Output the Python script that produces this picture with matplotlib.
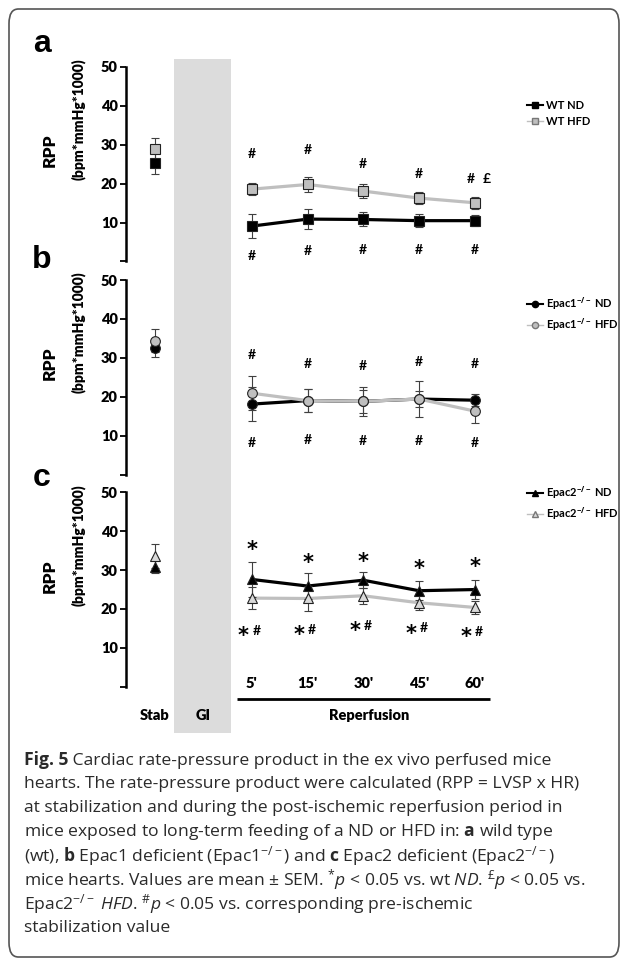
import matplotlib
matplotlib.use("Agg")
import matplotlib.pyplot as plt
from matplotlib.lines import Line2D
from matplotlib.patches import Rectangle, FancyBboxPatch
import matplotlib.transforms as mtransforms

plt.rcParams['font.family'] = ['Lato', 'DejaVu Sans']
plt.rcParams['mathtext.fontset'] = 'custom'
plt.rcParams['mathtext.rm'] = 'Open Sans'
plt.rcParams['mathtext.it'] = 'Open Sans:italic'
plt.rcParams['mathtext.bf'] = 'Open Sans:bold'

# x positions: Stab, then reperfusion 5'..60'
stab_x = -0.74
reperf_x = [1, 2, 3, 4, 5]
reperf_labels = ["5'", "15'", "30'", "45'", "60'"]

# values: first = Stab, then 5', 15', 30', 45', 60'
wt_nd = [25.4, 9.1, 10.9, 10.8, 10.5, 10.5]
wt_nd_err = [2.9, 3.0, 2.6, 1.8, 1.7, 1.5]
wt_hfd = [28.9, 18.6, 19.8, 18.1, 16.3, 15.1]
wt_hfd_err = [2.8, 1.5, 1.9, 1.8, 1.6, 1.6]

e1_nd = [32.5, 18.1, 19.0, 18.8, 19.4, 19.1]
e1_nd_err = [2.3, 4.4, 3.0, 3.8, 2.0, 1.6]
e1_hfd = [34.4, 20.9, 19.0, 18.8, 19.4, 16.3]
e1_hfd_err = [2.9, 4.4, 3.0, 3.0, 4.6, 3.1]

e2_nd = [30.9, 27.6, 25.9, 27.4, 24.7, 25.0]
e2_nd_err = [1.7, 4.6, 3.3, 2.0, 2.4, 2.4]
e2_hfd = [33.6, 22.8, 22.7, 23.4, 21.6, 20.4]
e2_hfd_err = [3.0, 2.8, 3.1, 2.1, 1.9, 1.7]

# significance marks (y positions in data units)
a_hash_top = [27.6, 28.7, 25.0, 22.4, 21.2]
a_hash_bot = [1.4, 2.7, 3.0, 3.0, 3.0]
b_hash_top = [30.6, 28.3, 28.0, 28.8, 28.5]
b_hash_bot = [8.1, 8.8, 8.5, 8.6, 8.1]
c_star_top = [36.5, 33.0, 33.5, 31.5, 32.2]
c_star_bot = [14.4, 14.6, 15.7, 15.0, 14.0]

fig = plt.figure(figsize=(6.27, 9.64), dpi=100)
H = 964.0
W = 627.0
ax_left = 126 / W
ax_w = (610 - 126) / W
ax_h = 194.5 / H
tops = [67, 280, 492.3]
axes = [fig.add_axes([ax_left, 1 - (t + 194.5) / H, ax_w, ax_h]) for t in tops]

hfd_face = ['#bfbfbf', '#bfbfbf', '#d9d9d9']
markers = ['s', 'o', '^']
msize = [7, 7, 7.5]
series = [(wt_nd, wt_nd_err, wt_hfd, wt_hfd_err, 'WT ND', 'WT HFD'),
          (e1_nd, e1_nd_err, e1_hfd, e1_hfd_err, r'Epac1$^{\mathbf{-/-}}$ ND', r'Epac1$^{\mathbf{-/-}}$ HFD'),
          (e2_nd, e2_nd_err, e2_hfd, e2_hfd_err, r'Epac2$^{\mathbf{-/-}}$ ND', r'Epac2$^{\mathbf{-/-}}$ HFD')]
leg_y = [38.1, 41.2, 47.2]

for i, ax in enumerate(axes):
    nd, nd_err, hfd, hfd_err, lab_nd, lab_hfd = series[i]
    xs = [stab_x] + reperf_x
    m = markers[i]
    for vals, errs, face, lc in [(nd, nd_err, 'black', 'black'), (hfd, hfd_err, hfd_face[i], '#bfbfbf')]:
        ax.plot(reperf_x, vals[1:], color=lc, lw=2.3, zorder=2)
        ax.errorbar(xs, vals, yerr=errs, fmt='none', ecolor='#404040', elinewidth=0.8,
                    capsize=3, capthick=0.8, zorder=3)
        ax.plot(xs, vals, ls='none', marker=m, ms=msize[i], mfc=face, mec='#222222',
                mew=0.8, zorder=4)

    ax.set_facecolor('none')
    ax.set_ylim(0, 50)
    ax.set_xlim(-1.26, 7.43)
    ax.set_yticks([0, 10, 20, 30, 40, 50])
    ax.set_yticklabels(['', '10', '20', '30', '40', '50'])
    ax.tick_params(axis='y', length=4, width=1.3, pad=2, labelsize=10.5)
    for t in ax.get_yticklabels():
        t.set_fontweight('heavy')
    ax.set_xticks([])
    for s in ['top', 'right', 'bottom']:
        ax.spines[s].set_visible(False)
    ax.spines['left'].set_linewidth(1.8)

    ax.text(-0.157, 0.57, 'RPP', transform=ax.transAxes, rotation=90, fontsize=12.5,
            fontweight='heavy', ha='center', va='center')
    ax.text(-0.099, 0.73, '(bpm*mmHg*1000)', transform=ax.transAxes, rotation=90,
            fontsize=10, fontweight='heavy', ha='center', va='center')

    handles = [Line2D([], [], color='black', lw=1.5, marker=m, ms=4.5, mfc='black', mec='black'),
               Line2D([], [], color='#bfbfbf', lw=1, marker=m, ms=4.5, mfc=hfd_face[i], mec='#777777')]
    leg = ax.legend(handles, [lab_nd, lab_hfd], loc='center left', bbox_to_anchor=(5.94, leg_y[i]),
                    bbox_transform=ax.transData, frameon=False, fontsize=8, handlelength=1.4,
                    handletextpad=0.3, labelspacing=0.4, borderpad=0, borderaxespad=0)
    for t in leg.get_texts():
        t.set_fontweight('bold')

# panel a marks
for x, yt, yb in zip(reperf_x, a_hash_top, a_hash_bot):
    xt = x - 0.07 if x == 5 else x
    axes[0].text(xt, yt, '#', ha='center', va='center', fontsize=10, fontweight='bold')
    axes[0].text(x, yb, '#', ha='center', va='center', fontsize=10, fontweight='bold')
axes[0].text(5.22, a_hash_top[-1], '£', ha='center', va='center', fontsize=10, fontweight='bold')

# panel b marks
for x, yt, yb in zip(reperf_x, b_hash_top, b_hash_bot):
    axes[1].text(x, yt, '#', ha='center', va='center', fontsize=10, fontweight='bold')
    axes[1].text(x, yb, '#', ha='center', va='center', fontsize=10, fontweight='bold')

# panel c marks
for x, yt, yb in zip(reperf_x, c_star_top, c_star_bot):
    axes[2].text(x, yt - 1.3, '*', ha='center', va='center', fontsize=15, fontweight='bold',
                 family='DejaVu Sans')
    axes[2].text(x - 0.15, yb - 1.3, '*', ha='center', va='center', fontsize=15, fontweight='bold',
                 family='DejaVu Sans')
    axes[2].text(x + 0.08, yb, '#', ha='center', va='center', fontsize=10, fontweight='bold')

# bottom labels
axc = axes[2]
for x, lab in zip(reperf_x, reperf_labels):
    axc.text(x, 0.95, lab, ha='center', va='center', fontsize=10.5, fontweight='heavy', clip_on=False)
axc.plot([0.73, 5.27], [-3.2, -3.2], color='black', lw=2, clip_on=False, solid_capstyle='butt')
axc.text(3.1, -7.3, 'Reperfusion', ha='center', va='center', fontsize=10.5, fontweight='heavy')
axc.text(stab_x, -7.3, 'Stab', ha='center', va='center', fontsize=10.5, fontweight='heavy')
axc.text(0.12, -7.3, 'GI', ha='center', va='center', fontsize=10.5, fontweight='heavy')

# gray GI band spanning all panels
trans = mtransforms.blended_transform_factory(axc.transData, fig.transFigure)
band = Rectangle((-0.40, 1 - 733 / H), 1.02, (733 - 59) / H, transform=trans,
                 facecolor='#dcdcdc', edgecolor='none', zorder=-1)
fig.add_artist(band)

# panel letters
for lab, y in zip(['a', 'b', 'c'], [44, 260, 478]):
    fig.text(42 / W, 1 - y / H, lab, ha='center', va='center', fontsize=23, fontweight='bold',
             family='Liberation Sans')

# outer frame
frame = FancyBboxPatch((9 / W, 1 - 957 / H), (619 - 9) / W, (957 - 9) / H,
                       boxstyle='round,pad=0,rounding_size=0.015', transform=fig.transFigure,
                       facecolor='none', edgecolor='#555555', lw=1.2)
fig.add_artist(frame)

# caption
cap_size = 12.6
cap_color = '#2a2a2a'
caption = [
    r" Cardiac rate-pressure product in the ex vivo perfused mice",
    r"hearts. The rate-pressure product were calculated (RPP = LVSP x HR)",
    r"at stabilization and during the post-ischemic reperfusion period in",
    r"mice exposed to long-term feeding of a ND or HFD in: $\mathbf{a}$ wild type",
    r"(wt), $\mathbf{b}$ Epac1 deficient (Epac1$^{-/-}$) and $\mathbf{c}$ Epac2 deficient (Epac2$^{-/-}$)",
    r"mice hearts. Values are mean ± SEM. $^{*}\mathit{p}$ < 0.05 vs. wt $\mathit{ND}$. $^{£}\mathit{p}$ < 0.05 vs.",
    r"Epac2$^{-/-}$ $\mathit{HFD}$. $^{\#}\mathit{p}$ < 0.05 vs. corresponding pre-ischemic",
    r"stabilization value",
]
fig_lab = fig.text(24 / W, 1 - 760 / H, 'Fig. 5', ha='left', va='center', fontsize=cap_size,
                   family='Open Sans', fontweight='bold', color=cap_color)
axc.annotate(caption[0], xy=(1, 0), xycoords=fig_lab, ha='left', va='bottom',
             fontsize=cap_size, family='Open Sans', color=cap_color, annotation_clip=False)
for k, line in enumerate(caption[1:], start=1):
    fig.text(24 / W, 1 - (760 + 24 * k) / H, line, ha='left', va='center', fontsize=cap_size,
             family='Open Sans', color=cap_color)

fig.savefig('out.png', dpi=100)
